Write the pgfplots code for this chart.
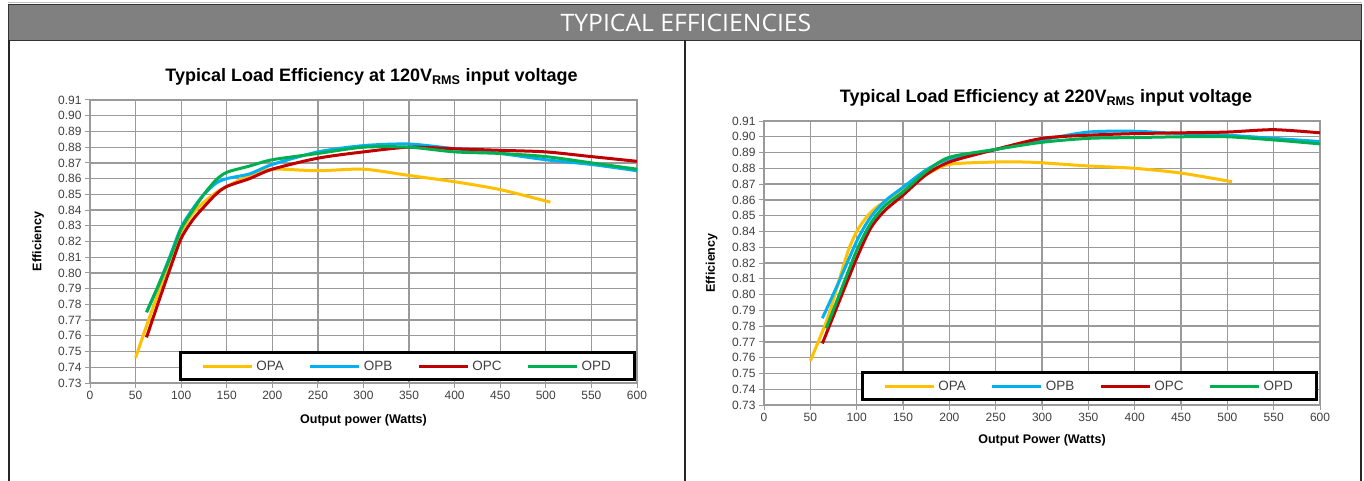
\documentclass[border=0pt]{standalone}
\usepackage{fontspec}
\setmainfont{Liberation Sans}
\newfontfamily\hdrfont[FakeStretch=1.03]{Open Sans}
\usepackage{pgfplots}
\pgfplotsset{compat=1.18}
\usepackage{pgfplotstable}

\definecolor{opa}{HTML}{FFC000}
\definecolor{opb}{HTML}{00B0F0}
\definecolor{opc}{HTML}{C00000}
\definecolor{opd}{HTML}{00B050}
\definecolor{gridc}{HTML}{9A9A9A}
\definecolor{tickc}{HTML}{404040}
\definecolor{hdr}{HTML}{808080}

% 120 V
\pgfplotstableread{
x y
50 0.746
63 0.768
76 0.789
88 0.808
100 0.826
113 0.838
125 0.845
138 0.851
150 0.855
175 0.862
200 0.866
250 0.865
300 0.866
350 0.862
400 0.858
450 0.853
505 0.845
}\lowA
\pgfplotstableread{
x y
62 0.775
75 0.792
88 0.811
100 0.829
113 0.841
125 0.850
138 0.857
150 0.860
175 0.863
200 0.869
250 0.877
300 0.881
350 0.882
400 0.879
450 0.876
500 0.872
550 0.869
600 0.865
}\lowB
\pgfplotstableread{
x y
62 0.759
76 0.783
88 0.803
100 0.822
113 0.834
125 0.842
138 0.850
150 0.855
175 0.860
200 0.866
250 0.873
300 0.877
350 0.880
400 0.879
450 0.878
500 0.877
550 0.874
600 0.871
}\lowC
\pgfplotstableread{
x y
62 0.775
75 0.792
88 0.810
100 0.828
113 0.840
125 0.850
138 0.859
150 0.864
175 0.868
200 0.872
250 0.876
300 0.880
350 0.880
400 0.877
450 0.876
500 0.874
550 0.870
600 0.866
}\lowD

% 220 V
\pgfplotstableread{
x y
50 0.758
68 0.784
80 0.807
91 0.828
101 0.841
112 0.850
123 0.856
150 0.866
175 0.876
200 0.8825
250 0.884
280 0.884
300 0.8835
350 0.8815
400 0.880
450 0.877
505 0.8715
}\highA
\pgfplotstableread{
x y
63 0.785
80 0.807
101 0.835
115 0.849
130 0.859
150 0.868
175 0.879
200 0.886
250 0.892
300 0.898
350 0.903
400 0.9035
450 0.902
500 0.901
550 0.899
600 0.897
}\highB
\pgfplotstableread{
x y
63 0.769
80 0.794
100 0.823
115 0.842
130 0.853
150 0.863
175 0.876
200 0.884
250 0.892
300 0.899
350 0.901
400 0.902
450 0.9025
500 0.903
550 0.9045
600 0.9025
}\highC
\pgfplotstableread{
x y
67 0.7785
80 0.798
100 0.828
115 0.845
130 0.856
150 0.865
175 0.878
200 0.887
250 0.892
300 0.8965
350 0.899
400 0.8995
450 0.900
500 0.900
550 0.898
600 0.8955
}\highD

\pgfplotsset{
  eff/.style={
    scale only axis,
    xmin=0, xmax=600, ymin=0.73, ymax=0.91,
    xtick distance=50, ytick distance=0.01,
    xtick pos=bottom, ytick pos=left,
    tick align=outside, major tick length=5pt,
    tick style={gridc, line width=1pt},
    grid=major,
    grid style={gridc, line width=1.3pt},
    axis line style={gridc, line width=1.3pt},
    ticklabel style={font=\fontsize{12}{12}\selectfont, text=tickc},
    /pgf/number format/assume math mode=true,
    yticklabel style={/pgf/number format/.cd, fixed, fixed zerofill, precision=2},
    xticklabel style={/pgf/number format/.cd, fixed, precision=0},
    scaled ticks=false,
    title style={font=\fontsize{18}{18}\selectfont\bfseries, at={(0.5,1)}, anchor=south, yshift=5pt},
    label style={font=\fontsize{12.5}{12.5}\selectfont\bfseries},
    ylabel style={at={(axis description cs:-0.095,0.5)}, anchor=center, rotate=0},
    legend columns=4,
    legend image code/.code={\draw[#1, line width=3pt] (0pt,0pt) -- (49pt,0pt);},
    legend style={draw=black, line width=3pt, font=\fontsize{13.5}{13.5}\selectfont,
      text=tickc, inner xsep=20.5pt, inner ysep=5pt,
      nodes={inner sep=3pt},
      /tikz/every even column/.append style={column sep=22pt}},
    every axis plot/.append style={line width=3pt, smooth, tension=0.45, no marks},
  }
}

\begin{document}
\begin{tikzpicture}
\useasboundingbox (0,0) rectangle (1364pt,-481pt);
\fill[white] (0,0) rectangle (1364pt,-481pt);
% header band and panel frames
\draw[gray!50, line width=1pt] (8pt,-3pt) -- (1362pt,-3pt);
\filldraw[fill=hdr, draw=black!80, line width=1.5pt] (8.5pt,-4.5pt) rectangle (1361.5pt,-40.5pt);
\node[text=white, font=\hdrfont\fontsize{24}{24}\selectfont] at (686pt,-23pt) {TYPICAL EFFICIENCIES};
\draw[black!85, line width=2pt] (9pt,-40pt) -- (9pt,-481pt);
\draw[black!85, line width=2pt] (685pt,-40pt) -- (685pt,-481pt);
\draw[black!85, line width=2pt] (1361pt,-40pt) -- (1361pt,-481pt);

\begin{axis}[eff,
  at={(90pt,-383pt)}, anchor=south west, width=547pt, height=283pt,
  title={Typical Load Efficiency at 120V\textsubscript{RMS} input voltage},
  title style={xshift=8pt},
  xlabel={Output power (Watts)}, ylabel={Efficiency},
  xlabel style={at={(axis description cs:0.5,-0.131)}, anchor=center},
  legend style={at={(0.998,0.007)}, anchor=south east}]
\addplot[opa] table {\lowA};
\addplot[opb] table {\lowB};
\addplot[opc] table {\lowC};
\addplot[opd] table {\lowD};
\legend{OPA, OPB, OPC, OPD}
\end{axis}

\begin{axis}[eff,
  at={(764pt,-405pt)}, anchor=south west, width=556pt, height=284pt,
  title={Typical Load Efficiency at 220V\textsubscript{RMS} input voltage},
  title style={xshift=4pt},
  xlabel={Output Power (Watts)}, ylabel={Efficiency},
  xlabel style={at={(axis description cs:0.5,-0.123)}, anchor=center},
  ylabel style={at={(axis description cs:-0.094,0.5)}},
  legend style={at={(0.996,0.014)}, anchor=south east}]
\addplot[opa] table {\highA};
\addplot[opb] table {\highB};
\addplot[opc] table {\highC};
\addplot[opd] table {\highD};
\legend{OPA, OPB, OPC, OPD}
\end{axis}
\end{tikzpicture}
\end{document}
